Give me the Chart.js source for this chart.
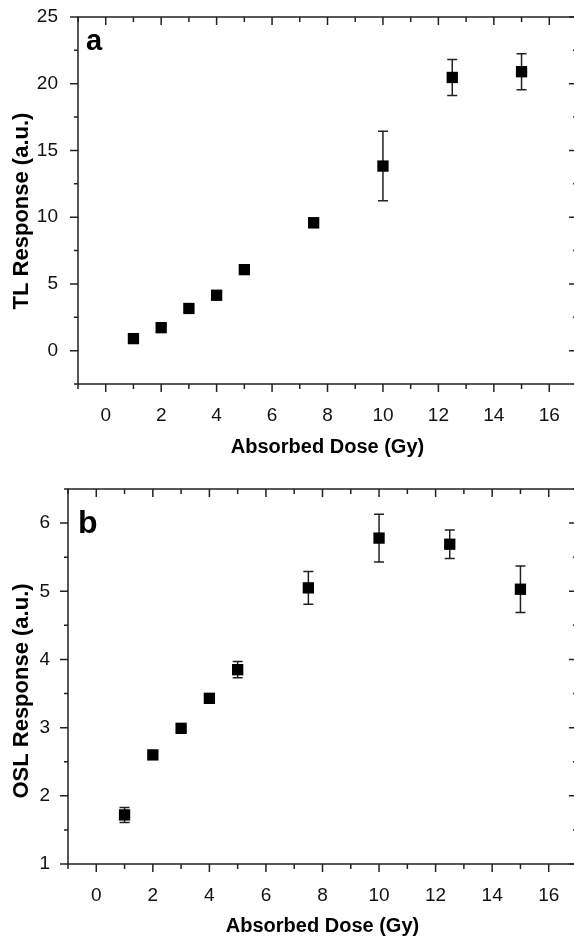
<!DOCTYPE html>
<html>
<head>
<meta charset="utf-8">
<script src="https://cdn.jsdelivr.net/npm/chart.js@4"></script>
<style>
  html, body { margin: 0; padding: 0; background: #fff; overflow: hidden; width: 574px; height: 938px; }
  canvas { display: block; }
</style>
</head>
<body>
<canvas id="chartA" width="578" height="470"></canvas>
<canvas id="chartB" width="578" height="468"></canvas>
<script>
// ---------------- data ----------------
const doses = [1, 2, 3, 4, 5, 7.5, 10, 12.5, 15];
const tlResponse = [0.9, 1.72, 3.16, 4.15, 6.07, 9.58, 13.83, 20.47, 20.9];
const tlError = [0.2, 0.2, 0.2, 0.25, 0.35, 0.35, 2.6, 1.35, 1.35];
const oslResponse = [1.72, 2.6, 2.99, 3.43, 3.85, 5.05, 5.78, 5.69, 5.03];
const oslError = [0.11, 0.03, 0.03, 0.03, 0.12, 0.24, 0.35, 0.21, 0.34];
const xTickValues = [0, 2, 4, 6, 8, 10, 12, 14, 16];
const xMinorValues = [-1, 1, 3, 5, 7, 9, 11, 13, 15, 17];
const tlTickValues = [0, 5, 10, 15, 20, 25];
const tlMinorValues = [-2.5, 2.5, 7.5, 12.5, 17.5, 22.5];
const oslTickValues = [1, 2, 3, 4, 5, 6];
const oslMinorValues = [1.5, 2.5, 3.5, 4.5, 5.5, 6.5];
const xTitle = 'Absorbed Dose (Gy)';
const tlTitle = 'TL Response (a.u.)';
const oslTitle = 'OSL Response (a.u.)';

const FONT = "'Liberation Sans', Arial, sans-serif";
const INK = '#222';

// Error bars + frame with ticks + y title + panel letter
const decorPlugin = {
  id: 'decor',
  beforeDatasetsDraw(chart, args, opts) {
    const ctx = chart.ctx;
    const xs = chart.scales.x, ys = chart.scales.y;
    const ds = chart.data.datasets[0];
    ctx.save();
    ctx.strokeStyle = INK;
    ctx.lineWidth = 1.5;
    opts.errors.forEach((e, i) => {
      const p = ds.data[i];
      const px = xs.getPixelForValue(p.x);
      const top = ys.getPixelForValue(p.y + e);
      const bot = ys.getPixelForValue(p.y - e);
      ctx.beginPath();
      ctx.moveTo(px, top); ctx.lineTo(px, bot);
      ctx.moveTo(px - 5, top); ctx.lineTo(px + 5, top);
      ctx.moveTo(px - 5, bot); ctx.lineTo(px + 5, bot);
      ctx.stroke();
    });
    ctx.restore();
  },
  afterDraw(chart, args, opts) {
    const ctx = chart.ctx;
    const a = chart.chartArea;
    const xs = chart.scales.x, ys = chart.scales.y;
    ctx.save();
    ctx.strokeStyle = INK;
    ctx.lineWidth = 1.5;
    ctx.strokeRect(a.left, a.top, a.right - a.left, a.bottom - a.top);
    ctx.beginPath();
    const tick = (vals, len) => {
      vals.forEach(v => {
        const px = xs.getPixelForValue(v);
        ctx.moveTo(px, a.bottom); ctx.lineTo(px, a.bottom + len);
        ctx.moveTo(px, a.top); ctx.lineTo(px, a.top + len);
      });
    };
    const ytick = (vals, len) => {
      vals.forEach(v => {
        const py = ys.getPixelForValue(v);
        ctx.moveTo(a.left, py); ctx.lineTo(a.left - len, py);
        ctx.moveTo(a.right, py); ctx.lineTo(a.right - len, py);
      });
    };
    tick(xTickValues, 8);
    tick(xMinorValues, 5);
    ytick(opts.yMajor, 8);
    ytick(opts.yMinor, 4);
    ctx.stroke();
    // y title
    ctx.fillStyle = '#000';
    ctx.font = 'bold 22px ' + FONT;
    ctx.textAlign = 'center';
    ctx.textBaseline = 'middle';
    ctx.translate(opts.titleX, opts.titleY);
    ctx.rotate(-Math.PI / 2);
    ctx.fillText(opts.yTitle, 0, 0);
    ctx.restore();
    // panel letter
    ctx.save();
    ctx.fillStyle = '#000';
    ctx.font = 'bold ' + opts.letterSize + 'px ' + FONT;
    ctx.textAlign = 'left';
    ctx.textBaseline = 'alphabetic';
    ctx.fillText(opts.letter, opts.letterX, opts.letterY);
    ctx.restore();
  }
};

function makeChart(id, yVals, yErr, cfg) {
  const pts = doses.map((d, i) => ({ x: d, y: yVals[i] }));
  return new Chart(document.getElementById(id), {
    type: 'scatter',
    data: {
      datasets: [{
        data: pts,
        pointStyle: 'rect',
        pointRadius: 8,
        pointHoverRadius: 8,
        backgroundColor: '#000',
        borderColor: '#000',
        borderWidth: 0,
        showLine: false
      }]
    },
    options: {
      responsive: false,
      animation: false,
      events: [],
      layout: { autoPadding: false, padding: { top: cfg.padTop, right: 1, left: 0, bottom: 0 } },
      plugins: {
        legend: { display: false },
        tooltip: { enabled: false },
        decor: {
          errors: yErr,
          yMajor: cfg.yTicks,
          yMinor: cfg.yMinor,
          yTitle: cfg.yTitle,
          titleX: 22,
          titleY: cfg.titleY,
          letter: cfg.letter,
          letterX: cfg.letterX,
          letterY: cfg.letterY,
          letterSize: cfg.letterSize
        }
      },
      scales: {
        x: {
          type: 'linear',
          min: -1, max: 17,
          grid: { display: false },
          border: { display: false },
          afterBuildTicks: s => { s.ticks = xTickValues.map(v => ({ value: v })); },
          afterFit: s => { s.height = cfg.xHeight; s.paddingLeft = 0; s.paddingRight = 0; },
          ticks: { color: '#111', font: { family: FONT, size: 19 }, padding: 12, maxRotation: 0 },
          title: {
            display: true, text: xTitle, color: '#000',
            font: { family: FONT, size: 20, weight: 'bold' },
            padding: { top: 0, bottom: cfg.xTitlePad }
          }
        },
        y: {
          type: 'linear',
          min: cfg.yMin, max: cfg.yMax,
          grid: { display: false },
          border: { display: false },
          afterBuildTicks: s => { s.ticks = cfg.yTicks.map(v => ({ value: v })); },
          afterFit: s => { s.width = cfg.yWidth; s.paddingTop = 0; s.paddingBottom = 0; },
          ticks: { color: '#111', font: { family: FONT, size: 19 }, padding: cfg.yPad },
          title: { display: false }
        }
      }
    },
    plugins: [decorPlugin]
  });
}

makeChart('chartA', tlResponse, tlError, {
  padTop: 17, yWidth: 78, xHeight: 86, xTitlePad: 11, yPad: 12,
  yMin: -2.5, yMax: 25, yTicks: tlTickValues, yMinor: tlMinorValues,
  yTitle: tlTitle, titleY: 211,
  letter: 'a', letterX: 86, letterY: 50, letterSize: 29
});
makeChart('chartB', oslResponse, oslError, {
  padTop: 19, yWidth: 68, xHeight: 74, xTitlePad: 0, yPad: 10,
  yMin: 1, yMax: 6.5, yTicks: oslTickValues, yMinor: oslMinorValues,
  yTitle: oslTitle, titleY: 221,
  letter: 'b', letterX: 78, letterY: 63, letterSize: 32
});
</script>
</body>
</html>
